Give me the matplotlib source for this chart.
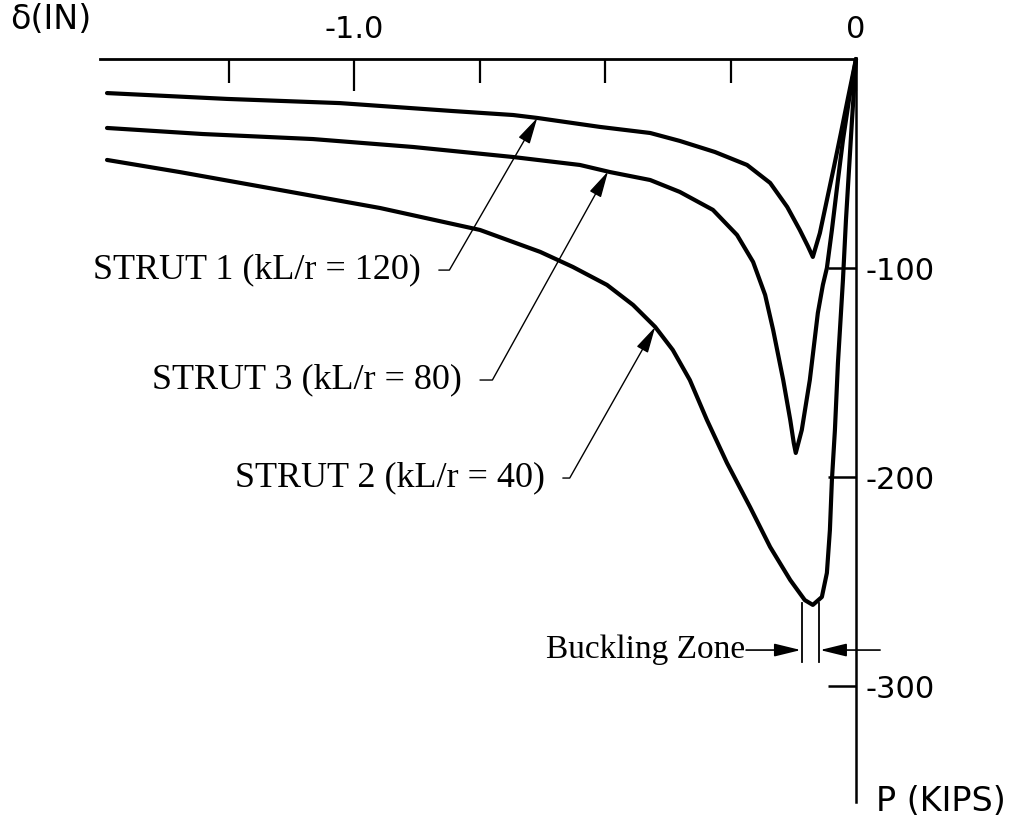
import matplotlib
matplotlib.use("Agg")
import matplotlib.pyplot as plt

# deflection delta (in) vs axial load P (kips) for three struts
strut1_d = [-1.492, -1.253, -1.028, -0.803, -0.683, -0.635, -0.510, -0.410, -0.351, -0.281,
            -0.217, -0.171, -0.137, -0.112, -0.096, -0.086, -0.072, -0.058, -0.044, -0.030,
            -0.016, 0.0]
strut1_p = [-16.3, -19.1, -21.1, -24.9, -26.8, -28.2, -32.5, -35.4, -39.2, -44.5,
            -50.7, -59.3, -70.8, -81.8, -89.5, -94.7, -83.3, -67.5, -51.7, -35.4,
            -18.7, 0.0]

strut3_d = [-1.492, -1.301, -1.082, -0.882, -0.683, -0.550, -0.490, -0.410, -0.351, -0.285,
            -0.237, -0.205, -0.181, -0.165, -0.145, -0.131, -0.124, -0.120, -0.108, -0.092,
            -0.076, -0.066, -0.058, -0.048, -0.036, -0.026, -0.014, 0.0]
strut3_p = [-33.0, -35.9, -38.3, -42.1, -46.9, -50.7, -54.1, -57.9, -63.6, -72.2,
            -84.2, -97.1, -112.9, -129.7, -153.6, -172.7, -183.7, -188.5, -177.5, -153.6,
            -121.5, -108.1, -100.0, -81.8, -57.9, -38.8, -19.6, 0.0]

strut2_d = [-1.492, -1.347, -1.147, -0.948, -0.749, -0.629, -0.564, -0.496, -0.444, -0.400,
            -0.365, -0.331, -0.297, -0.257, -0.211, -0.171, -0.131, -0.102, -0.086, -0.068,
            -0.058, -0.052, -0.048, -0.042, -0.036, -0.026, -0.020, -0.014, -0.008, 0.0]
strut2_p = [-48.3, -54.1, -62.7, -71.3, -81.8, -92.3, -99.5, -108.1, -117.7, -128.2,
            -139.2, -153.6, -172.7, -193.3, -214.4, -233.5, -249.3, -258.9, -261.2, -257.4,
            -245.9, -225.4, -201.4, -177.5, -145.5, -105.7, -77.0, -53.1, -29.2, 0.0]

x_major = [-1.0, 0.0]
x_major_labels = ["-1.0", "0"]
x_minor = [-1.25, -0.75, -0.5, -0.25]
y_ticks = [-100, -200, -300]
y_labels = ["-100", "-200", "-300"]

fig = plt.figure(figsize=(10.31, 8.22), dpi=100)
ax = fig.add_axes([0, 0, 1, 1])
ax.set_xlim(-1.7052, 0.3486)
ax.set_ylim(-365.07, 28.23)
ax.patch.set_alpha(0)

# axes drawn through the origin: delta along the top, P down the right
for s in ["left", "bottom"]:
    ax.spines[s].set_visible(False)
ax.spines["top"].set_position(("data", 0))
ax.spines["right"].set_position(("data", 0))
ax.spines["top"].set_bounds(-1.505, 0)
ax.spines["right"].set_bounds(-355.5, 0)
ax.spines["top"].set_linewidth(2.0)
ax.spines["right"].set_linewidth(1.8)

ax.xaxis.tick_top()
ax.yaxis.tick_right()
ax.set_xticks(x_major)
ax.set_xticklabels(x_major_labels)
ax.set_xticks(x_minor, minor=True)
ax.set_yticks(y_ticks)
ax.set_yticklabels(y_labels)
ax.tick_params(axis="x", which="major", direction="in", length=23, width=1.6,
               pad=11, labelsize=22)
ax.tick_params(axis="x", which="minor", direction="in", length=17, width=1.6)
ax.tick_params(axis="y", direction="in", length=20, width=1.8, pad=7, labelsize=22)

for d, p in [(strut1_d, strut1_p), (strut3_d, strut3_p), (strut2_d, strut2_p)]:
    ax.plot(d, p, color="black", lw=3.0, solid_joinstyle="round", solid_capstyle="round")

ax.text(-1.685, 19.1, "δ(IN)", fontsize=24, ha="left", va="center")
ax.text(0.040, -355.5, "P (KIPS)", fontsize=24, ha="left", va="center")

serif = "Liberation Serif"
labels = [
    ("STRUT 1 (kL/r = 120)", (-0.635, -28.2), (-0.867, -101.0), 60.0),
    ("STRUT 3 (kL/r = 80)", (-0.494, -53.8), (-0.785, -153.6), 61.0),
    ("STRUT 2 (kL/r = 40)", (-0.400, -128.2), (-0.620, -200.5), 60.5),
]
for txt, tip, pos, ang in labels:
    ax.annotate(txt, xy=tip, xytext=pos, ha="right", va="center",
                fontsize=26, family=serif,
                arrowprops=dict(arrowstyle="-|>,head_length=0.9,head_width=0.22",
                                connectionstyle=f"angle,angleA=0,angleB={ang},rad=0",
                                shrinkA=11, shrinkB=0, lw=1.0, color="black",
                                mutation_scale=18))

# buckling zone markers
ax.text(-0.221, -282.8, "Buckling Zone", fontsize=24, family=serif, ha="right", va="center")
ax.annotate("", xy=(-0.110, -282.8), xytext=(-0.219, -282.8),
            arrowprops=dict(arrowstyle="-|>,head_length=0.9,head_width=0.22", lw=1.2,
                            color="black", mutation_scale=18, shrinkA=0, shrinkB=0))
ax.annotate("", xy=(-0.0715, -282.8), xytext=(0.048, -282.8),
            arrowprops=dict(arrowstyle="-|>,head_length=0.9,head_width=0.22", lw=1.2,
                            color="black", mutation_scale=18, shrinkA=0, shrinkB=0))
for xz in [-0.1076, -0.0737]:
    ax.plot([xz, xz], [-260.3, -288.5], color="black", lw=1.3)

fig.savefig("out.png", dpi=100, facecolor="white")
